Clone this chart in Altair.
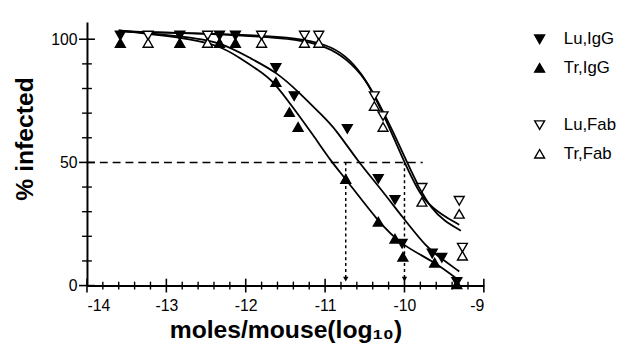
import altair as alt
import pandas as pd

FONT = "Liberation Sans"

# ---------------- data ----------------
# measured points (log10 moles/mouse, % infected)
lu_igg_x = [-13.58, -12.83, -12.33, -12.13, -11.62, -11.39, -10.72, -10.33, -10.12, -10.03, -9.65, -9.53, -9.34]
lu_igg_y = [101.5, 101.5, 101.5, 101.5, 88.3, 76.9, 63.6, 43.3, 34.8, 17.0, 13.0, 11.3, 1.5]

tr_igg_x = [-13.58, -12.83, -12.33, -12.13, -11.62, -11.45, -11.34, -10.74, -10.33, -10.12, -10.02, -9.62, -9.34]
tr_igg_y = [98.5, 98.5, 98.5, 98.5, 82.6, 70.4, 64.4, 43.3, 25.9, 19.0, 11.7, 9.3, 0.5]

lu_fab_x = [-13.23, -12.48, -11.80, -11.26, -11.08, -10.38, -10.27, -9.78, -9.31, -9.27]
lu_fab_y = [101.5, 101.5, 101.5, 101.5, 101.5, 76.9, 68.8, 39.7, 34.4, 15.4]

tr_fab_x = [-13.23, -12.48, -11.80, -11.26, -11.08, -10.38, -10.27, -9.78, -9.31, -9.27]
tr_fab_y = [98.5, 98.5, 98.5, 98.5, 98.5, 72.9, 64.4, 34.0, 29.1, 12.1]

# fitted curves
tr_igg_curve_x = [-13.60, -12.82, -12.33, -12.07, -11.84, -11.65, -11.40, -11.15, -10.93, -10.74, -10.33, -10.03, -9.62, -9.31]
tr_igg_curve_y = [103.6, 100.8, 97.6, 92.3, 87.4, 83.0, 72.1, 61.1, 50.6, 43.3, 25.9, 16.2, 9.7, 2.0]

lu_igg_curve_x = [-13.60, -12.82, -12.33, -11.92, -11.61, -11.33, -11.03, -10.87, -10.59, -10.33, -10.03, -9.71, -9.53, -9.31]
lu_igg_curve_y = [103.6, 101.2, 99.2, 91.9, 86.6, 78.5, 68.8, 63.6, 50.6, 40.5, 28.0, 15.0, 10.9, 5.7]

lu_fab_curve_x = [-13.60, -12.61, -11.86, -11.36, -10.99, -10.74, -10.53, -10.37, -10.21, -10.02, -9.87, -9.75, -9.53, -9.31]
lu_fab_curve_y = [103.2, 102.4, 101.6, 100.4, 98.0, 93.5, 85.8, 76.5, 65.6, 51.4, 41.3, 34.4, 28.7, 24.7]

tr_fab_curve_x = [-13.60, -12.61, -11.86, -11.36, -10.99, -10.72, -10.49, -10.33, -10.16, -9.97, -9.81, -9.66, -9.50, -9.29]
tr_fab_curve_y = [103.2, 102.4, 101.2, 100.0, 97.2, 91.9, 83.8, 74.5, 63.6, 50.2, 39.3, 31.2, 26.3, 22.3]

# 50 % guide lines
half_level = [50]
half_x_end = [-9.77]
drop_x = [-10.74, -10.00]
drop_y_end = [3.5]
arrow_y = [2.6]

# axis ticks
x_major_ticks = [-14, -13, -12, -11, -10, -9]
x_minor_ticks = [-13.8, -13.6, -13.4, -13.2, -12.8, -12.6, -12.4, -12.2, -11.8, -11.6, -11.4, -11.2,
                 -10.8, -10.6, -10.4, -10.2, -9.8, -9.6, -9.4, -9.2]
y_minor_ticks = [10, 20, 30, 40, 60, 70, 80, 90]
y_major_ticks = [0, 50, 100]

# legend order (a blank row separates the IgG and Fab groups)
legend_order = ["Lu,IgG", "Tr,IgG", " ", "Lu,Fab", "Tr,Fab"]
legend_shapes = ["triangle-down", "triangle-up", "M0,0", "triangle-down", "triangle-up"]
legend_fills = ["black", "black", "white", "white", "white"]
legend_strokes = ["black", "black", "white", "black", "black"]

# ---------------- tables ----------------
def pts(xs, ys, name):
    return pd.DataFrame({"x": xs, "y": ys, "series": name})

points_df = pd.concat([
    pts(lu_igg_x, lu_igg_y, "Lu,IgG"),
    pts(tr_igg_x, tr_igg_y, "Tr,IgG"),
    pts(lu_fab_x, lu_fab_y, "Lu,Fab"),
    pts(tr_fab_x, tr_fab_y, "Tr,Fab"),
])
curve_df = pd.concat([
    pts(tr_igg_curve_x, tr_igg_curve_y, "Tr,IgG"),
    pts(lu_igg_curve_x, lu_igg_curve_y, "Lu,IgG"),
    pts(lu_fab_curve_x, lu_fab_curve_y, "Lu,Fab"),
    pts(tr_fab_curve_x, tr_fab_curve_y, "Tr,Fab"),
])
hline_df = pd.DataFrame({"x": [-14], "x2": half_x_end, "y": half_level})
vline_df = pd.DataFrame({"x": drop_x, "y": half_level * 2, "y2": drop_y_end * 2})
arrow_df = pd.DataFrame({"x": drop_x, "y": arrow_y * 2})

# tick half-lengths (style, in axis units)
XMIN_H, XMAJ_H = 1.6, 2.8      # vertical half-length of x-axis ticks (% units)
YMIN_H, YMAJ_H = 0.062, 0.1    # horizontal half-length of y-axis ticks (log units)

xmaj_df = pd.DataFrame({"x": x_major_ticks})
xmaj_df["y"], xmaj_df["y2"] = -XMAJ_H, XMAJ_H
xmin_df = pd.DataFrame({"x": x_minor_ticks})
xmin_df["y"], xmin_df["y2"] = -XMIN_H, XMIN_H
ymaj_df = pd.DataFrame({"y": y_major_ticks})
ymaj_df["x"], ymaj_df["x2"] = -14 - YMAJ_H, -14 + YMAJ_H
ymin_df = pd.DataFrame({"y": y_minor_ticks})
ymin_df["x"], ymin_df["x2"] = -14 - YMIN_H, -14 + YMIN_H

# ---------------- scales / axes ----------------
xs = alt.Scale(domain=[-14, -9], nice=False, zero=False)
ys = alt.Scale(domain=[0, 107], nice=False, zero=False)

x_axis = alt.Axis(
    values=x_major_ticks, labelExpr="'' + datum.value", ticks=False, grid=False,
    domainColor="black", domainWidth=2, labelFont=FONT, labelFontSize=16, labelColor="black",
    labelPadding=12, title="moles/mouse(log\u2081\u2080)", titleFont=FONT, titleFontSize=25,
    titleFontWeight="bold", titleColor="black", titleBaseline="alphabetic", titleY=53,
)
y_axis = alt.Axis(
    values=y_major_ticks, ticks=False, grid=False,
    domainColor="black", domainWidth=2, labelFont=FONT, labelFontSize=16, labelColor="black",
    labelPadding=10, title="% infected", titleFont=FONT, titleFontSize=25,
    titleFontWeight="bold", titleColor="black", titleBaseline="alphabetic",
    titleX=-55, titleY=118, titleAngle=-90,
)

X = alt.X("x:Q", scale=xs, axis=x_axis)
Y = alt.Y("y:Q", scale=ys, axis=y_axis)

# ---------------- layers ----------------
curves = alt.Chart(curve_df).mark_line(color="black", strokeWidth=1.8, interpolate="basis").encode(
    x=X, y=Y, detail="series:N"
)
hline = alt.Chart(hline_df).mark_rule(color="black", strokeWidth=1.5, strokeDash=[8, 5]).encode(
    x=X, x2="x2:Q", y=Y
)
vlines = alt.Chart(vline_df).mark_rule(color="black", strokeWidth=1.5, strokeDash=[3, 3]).encode(
    x=X, y=Y, y2="y2:Q"
)
arrows = alt.Chart(arrow_df).mark_point(shape="triangle-down", filled=True, color="black",
                                         size=30, opacity=1).encode(x=X, y=Y)

xmaj = alt.Chart(xmaj_df).mark_rule(color="black", strokeWidth=1.6).encode(x=X, y=Y, y2="y2:Q")
xmin = alt.Chart(xmin_df).mark_rule(color="black", strokeWidth=1.4).encode(x=X, y=Y, y2="y2:Q")
ymaj = alt.Chart(ymaj_df).mark_rule(color="black", strokeWidth=1.6).encode(x=X, x2="x2:Q", y=Y)
ymin = alt.Chart(ymin_df).mark_rule(color="black", strokeWidth=1.4).encode(x=X, x2="x2:Q", y=Y)

legend = alt.Legend(
    orient="none", legendX=450, legendY=9, title=None, direction="vertical",
    labelFont=FONT, labelFontSize=17, labelColor="black", symbolSize=100,
    labelOffset=16, rowPadding=11, padding=0, symbolOpacity=1, symbolStrokeWidth=1.4,
)

points = alt.Chart(points_df).mark_point(
    filled=True, strokeWidth=1.4, size=100, opacity=1
).encode(
    x=X, y=Y,
    shape=alt.Shape("series:N", scale=alt.Scale(domain=legend_order, range=legend_shapes), legend=legend),
    fill=alt.Fill("series:N", scale=alt.Scale(domain=legend_order, range=legend_fills), legend=legend),
    stroke=alt.Stroke("series:N", scale=alt.Scale(domain=legend_order, range=legend_strokes), legend=legend),
)

chart = (
    alt.layer(hline, vlines, arrows, curves, xmin, xmaj, ymin, ymaj, points)
    .properties(
        width=402, height=267,
        autosize=alt.AutoSizeParams(type="none"),
        padding={"left": 80, "top": 12, "right": 145, "bottom": 57},
        background="white",
    )
    .configure_view(stroke=None)
)

chart.save("out.html", embed_options={"renderer": "svg", "actions": False})
